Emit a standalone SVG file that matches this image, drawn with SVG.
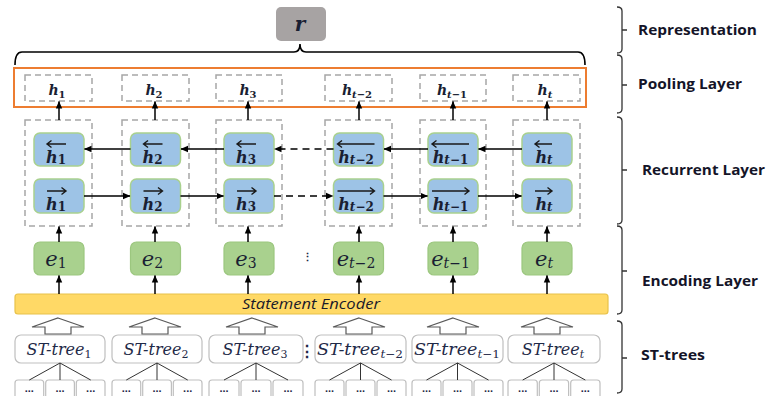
<svg xmlns="http://www.w3.org/2000/svg" width="766" height="396" viewBox="0 0 766 396">
<defs>
<marker id="ah" markerWidth="8" markerHeight="8" refX="7" refY="4" orient="auto" markerUnits="userSpaceOnUse">
<path d="M0,0.8 L7.5,4 L0,7.2 z" fill="#000"/>
</marker>
<style>
.dash{fill:none;stroke:#a6a6a6;stroke-width:1.5;stroke-dasharray:6 4}
.blue{fill:#9dc3e6;stroke:#a9d18e;stroke-width:1.5}
.green{fill:#a9d18e;stroke:#9cc77f;stroke-width:1.2}
.st{fill:#fff;stroke:#bfbfbf;stroke-width:1.2}
.leaf{fill:#fff;stroke:#bfbfbf;stroke-width:1.2}
.conn{stroke:#000;stroke-width:1.5;fill:none}
.cdash{stroke:#000;stroke-width:1.5;fill:none;stroke-dasharray:7 5}
.tree{stroke:#333;stroke-width:1;fill:none}
.hollow{fill:#fff;stroke:#595959;stroke-width:1.2}
.acc{stroke:#1a1a1a;stroke-width:1.4;fill:none}
.math{font-family:"DejaVu Serif","Liberation Serif",serif;font-style:italic;fill:#1a1f33}
.up{font-style:normal}
.ph{font-size:14px;text-anchor:middle;font-weight:700}
.bh{font-size:16px;text-anchor:middle;font-weight:700}
.eh{font-size:21px;text-anchor:middle}
.sth{font-size:16px;text-anchor:middle;fill:#1f2a48}
.lab{font-family:"Open Sans","Liberation Sans",sans-serif;font-weight:700;font-size:14.5px;fill:#141428}
.dots{font-family:"Liberation Sans",sans-serif;font-weight:700;font-size:11px;text-anchor:middle;fill:#1f2a48}
.vd{font-family:"Liberation Sans",sans-serif;font-weight:700;text-anchor:middle;fill:#1f2a48}
</style>
</defs>
<rect width="766" height="396" fill="#fff"/>

<!-- representation -->
<g id="r">
<rect x="276" y="7" width="50" height="34" rx="5" fill="#a7a3a3"/>
<text x="300" y="31" class="math" style="font-size:20px;font-weight:700" text-anchor="middle">r</text>
</g>
<g id="topbrace">
<path d="M15,65 Q15,52 22,52 L294,52 Q300,52 300,44 Q300,52 306,52 L578,52 Q585,52 585,65" fill="none" stroke="#000" stroke-width="1.6"/>
</g>

<!-- pooling layer -->
<g id="pooling">
<rect x="14" y="68" width="572" height="39" fill="none" stroke="#ed7d31" stroke-width="2"/>
<g id="p1"><rect class="dash" x="25" y="75" width="67" height="26"/><text class="math ph" x="57" y="95">h<tspan font-size="10" dy="3" class="up">1</tspan></text></g>
<g id="p2"><rect class="dash" x="122" y="75" width="67" height="26"/><text class="math ph" x="154" y="95">h<tspan font-size="10" dy="3" class="up">2</tspan></text></g>
<g id="p3"><rect class="dash" x="216" y="75" width="66" height="26"/><text class="math ph" x="248" y="95">h<tspan font-size="10" dy="3" class="up">3</tspan></text></g>
<g id="p4"><rect class="dash" x="325" y="75" width="67" height="26"/><text class="math ph" x="357" y="95">h<tspan font-size="10" dy="3">t</tspan><tspan font-size="10" class="up">−2</tspan></text></g>
<g id="p5"><rect class="dash" x="420" y="75" width="66" height="26"/><text class="math ph" x="452" y="95">h<tspan font-size="10" dy="3">t</tspan><tspan font-size="10" class="up">−1</tspan></text></g>
<g id="p6"><rect class="dash" x="513" y="75" width="67" height="26"/><text class="math ph" x="545" y="95">h<tspan font-size="10" dy="3">t</tspan></text></g>
</g>

<!-- recurrent layer -->
<g id="recurrent">
<rect class="dash" x="25" y="120" width="67" height="106"/>
<rect class="dash" x="122" y="120" width="67" height="106"/>
<rect class="dash" x="216" y="120" width="66" height="106"/>
<rect class="dash" x="325" y="120" width="67" height="106"/>
<rect class="dash" x="420" y="120" width="66" height="106"/>
<rect class="dash" x="513" y="120" width="67" height="106"/>
</g>

<g id="b1"><rect class="blue" x="34" y="133" width="50" height="33" rx="6"/><path class="acc" d="M47,144 L66,144 M51.5,140.5 L47,144 L51.5,147.5"/><text class="math bh" x="56" y="163">h<tspan font-size="12" dy="1" class="up">1</tspan></text></g>
<g id="b2"><rect class="blue" x="130.5" y="133" width="50" height="33" rx="6"/><path class="acc" d="M143.5,144 L162.5,144 M148,140.5 L143.5,144 L148,147.5"/><text class="math bh" x="152.5" y="163">h<tspan font-size="12" dy="1" class="up">2</tspan></text></g>
<g id="b3"><rect class="blue" x="224" y="133" width="50" height="33" rx="6"/><path class="acc" d="M237,144 L256,144 M241.5,140.5 L237,144 L241.5,147.5"/><text class="math bh" x="246" y="163">h<tspan font-size="12" dy="1" class="up">3</tspan></text></g>
<g id="b4"><rect class="blue" x="333.5" y="133" width="50" height="33" rx="6"/><path class="acc" d="M337.5,144 L374.5,144 M342,140.5 L337.5,144 L342,147.5"/><text class="math bh" x="356" y="163">h<tspan font-size="12" dy="1">t</tspan><tspan font-size="12" class="up">−2</tspan></text></g>
<g id="b5"><rect class="blue" x="428" y="133" width="50" height="33" rx="6"/><path class="acc" d="M432,144 L469,144 M436.5,140.5 L432,144 L436.5,147.5"/><text class="math bh" x="450.5" y="163">h<tspan font-size="12" dy="1">t</tspan><tspan font-size="12" class="up">−1</tspan></text></g>
<g id="b6"><rect class="blue" x="522" y="133" width="50" height="33" rx="6"/><path class="acc" d="M535,144 L552,144 M539.5,140.5 L535,144 L539.5,147.5"/><text class="math bh" x="544" y="163">h<tspan font-size="12" dy="1">t</tspan></text></g>

<g id="f1"><rect class="blue" x="34" y="179" width="50" height="34" rx="6"/><path class="acc" d="M47,191 L66,191 M61.5,187.5 L66,191 L61.5,194.5"/><text class="math bh" x="56" y="210">h<tspan font-size="12" dy="1" class="up">1</tspan></text></g>
<g id="f2"><rect class="blue" x="130.5" y="179" width="50" height="34" rx="6"/><path class="acc" d="M143.5,191 L162.5,191 M158,187.5 L162.5,191 L158,194.5"/><text class="math bh" x="152.5" y="210">h<tspan font-size="12" dy="1" class="up">2</tspan></text></g>
<g id="f3"><rect class="blue" x="224" y="179" width="50" height="34" rx="6"/><path class="acc" d="M237,191 L256,191 M251.5,187.5 L256,191 L251.5,194.5"/><text class="math bh" x="246" y="210">h<tspan font-size="12" dy="1" class="up">3</tspan></text></g>
<g id="f4"><rect class="blue" x="333.5" y="179" width="50" height="34" rx="6"/><path class="acc" d="M337.5,191 L374.5,191 M370,187.5 L374.5,191 L370,194.5"/><text class="math bh" x="356" y="210">h<tspan font-size="12" dy="1">t</tspan><tspan font-size="12" class="up">−2</tspan></text></g>
<g id="f5"><rect class="blue" x="428" y="179" width="50" height="34" rx="6"/><path class="acc" d="M432,191 L469,191 M464.5,187.5 L469,191 L464.5,194.5"/><text class="math bh" x="450.5" y="210">h<tspan font-size="12" dy="1">t</tspan><tspan font-size="12" class="up">−1</tspan></text></g>
<g id="f6"><rect class="blue" x="522" y="179" width="50" height="34" rx="6"/><path class="acc" d="M535,191 L552,191 M547.5,187.5 L552,191 L547.5,194.5"/><text class="math bh" x="544" y="210">h<tspan font-size="12" dy="1">t</tspan></text></g>

<!-- encoding layer -->
<g id="e1"><rect class="green" x="34" y="242" width="50" height="33" rx="6"/><text class="math eh" x="56" y="266">e<tspan font-size="14" dy="2" class="up">1</tspan></text></g>
<g id="e2"><rect class="green" x="130.5" y="242" width="50" height="33" rx="6"/><text class="math eh" x="152.5" y="266">e<tspan font-size="14" dy="2" class="up">2</tspan></text></g>
<g id="e3"><rect class="green" x="224" y="242" width="50" height="33" rx="6"/><text class="math eh" x="246" y="266">e<tspan font-size="14" dy="2" class="up">3</tspan></text></g>
<g id="e4"><rect class="green" x="333.5" y="242" width="50" height="33" rx="6"/><text class="math eh" x="356" y="266">e<tspan font-size="14" dy="2">t</tspan><tspan font-size="14" class="up">−2</tspan></text></g>
<g id="e5"><rect class="green" x="428" y="242" width="50" height="33" rx="6"/><text class="math eh" x="450.5" y="266">e<tspan font-size="14" dy="2">t</tspan><tspan font-size="14" class="up">−1</tspan></text></g>
<g id="e6"><rect class="green" x="522" y="242" width="50" height="33" rx="6"/><text class="math eh" x="544" y="266">e<tspan font-size="14" dy="2">t</tspan></text></g>
<text class="vd" x="307" y="261" font-size="11">⋮</text>

<g id="encoder">
<rect x="15" y="294" width="593" height="20" rx="3" fill="#ffd966" stroke="#e8c24a" stroke-width="1.2"/>
<text x="311" y="309" font-family="'Open Sans','Liberation Sans',sans-serif" font-style="italic" font-size="15" text-anchor="middle" fill="#1a1a2a" textLength="138" lengthAdjust="spacingAndGlyphs">Statement Encoder</text>
</g>

<!-- ST-trees -->
<g id="st1"><rect class="st" x="15" y="335" width="90" height="28" rx="6"/><text class="math sth" x="59" y="355">ST-tree<tspan font-size="11" dy="3" class="up">1</tspan></text></g>
<g id="st2"><rect class="st" x="112" y="335" width="90" height="28" rx="6"/><text class="math sth" x="156" y="355">ST-tree<tspan font-size="11" dy="3" class="up">2</tspan></text></g>
<g id="st3"><rect class="st" x="209" y="335" width="94" height="28" rx="6"/><text class="math sth" x="255" y="355">ST-tree<tspan font-size="11" dy="3" class="up">3</tspan></text></g>
<g id="st4"><rect class="st" x="315" y="335" width="91" height="28" rx="6"/><text class="math sth" x="360" y="355" textLength="86" lengthAdjust="spacingAndGlyphs">ST-tree<tspan font-size="11" dy="3">t</tspan><tspan font-size="11" class="up">−2</tspan></text></g>
<g id="st5"><rect class="st" x="412" y="335" width="91" height="28" rx="6"/><text class="math sth" x="457" y="355" textLength="86" lengthAdjust="spacingAndGlyphs">ST-tree<tspan font-size="11" dy="3">t</tspan><tspan font-size="11" class="up">−1</tspan></text></g>
<g id="st6"><rect class="st" x="508" y="335" width="92" height="28" rx="6"/><text class="math sth" x="553" y="355">ST-tree<tspan font-size="11" dy="3">t</tspan></text></g>
<text class="vd" x="307" y="357" font-size="16">⋮</text>

<g id="leaves">
<rect class="leaf" x="15" y="380" width="28.7" height="22" rx="3"/><rect class="leaf" x="45.7" y="380" width="28.7" height="22" rx="3"/><rect class="leaf" x="76.3" y="380" width="28.7" height="22" rx="3"/>
<rect class="leaf" x="112" y="380" width="28.7" height="22" rx="3"/><rect class="leaf" x="142.7" y="380" width="28.7" height="22" rx="3"/><rect class="leaf" x="173.3" y="380" width="28.7" height="22" rx="3"/>
<rect class="leaf" x="209" y="380" width="30" height="22" rx="3"/><rect class="leaf" x="241" y="380" width="30" height="22" rx="3"/><rect class="leaf" x="273" y="380" width="30" height="22" rx="3"/>
<rect class="leaf" x="315" y="380" width="29" height="22" rx="3"/><rect class="leaf" x="346" y="380" width="29" height="22" rx="3"/><rect class="leaf" x="377" y="380" width="29" height="22" rx="3"/>
<rect class="leaf" x="412" y="380" width="29" height="22" rx="3"/><rect class="leaf" x="443" y="380" width="29" height="22" rx="3"/><rect class="leaf" x="474" y="380" width="29" height="22" rx="3"/>
<rect class="leaf" x="508" y="380" width="29.3" height="22" rx="3"/><rect class="leaf" x="539.3" y="380" width="29.3" height="22" rx="3"/><rect class="leaf" x="570.7" y="380" width="29.3" height="22" rx="3"/>
<text class="dots" x="29.3" y="392">...</text><text class="dots" x="60" y="392">...</text><text class="dots" x="90.7" y="392">...</text>
<text class="dots" x="126.3" y="392">...</text><text class="dots" x="157" y="392">...</text><text class="dots" x="187.7" y="392">...</text>
<text class="dots" x="224" y="392">...</text><text class="dots" x="256" y="392">...</text><text class="dots" x="288" y="392">...</text>
<text class="dots" x="329.5" y="392">...</text><text class="dots" x="360.5" y="392">...</text><text class="dots" x="391.5" y="392">...</text>
<text class="dots" x="426.5" y="392">...</text><text class="dots" x="457.5" y="392">...</text><text class="dots" x="488.5" y="392">...</text>
<text class="dots" x="522.7" y="392">...</text><text class="dots" x="554" y="392">...</text><text class="dots" x="585.3" y="392">...</text>
</g>

<!-- connectors -->
<g id="connectors">
<g marker-end="url(#ah)">
<line class="conn" x1="59" y1="120" x2="59" y2="101.5"/>
<line class="conn" x1="155" y1="120" x2="155" y2="101.5"/>
<line class="conn" x1="248" y1="120" x2="248" y2="101.5"/>
<line class="conn" x1="359" y1="120" x2="359" y2="101.5"/>
<line class="conn" x1="453" y1="120" x2="453" y2="101.5"/>
<line class="conn" x1="547" y1="120" x2="547" y2="101.5"/>

<line class="conn" x1="130.5" y1="149" x2="84.5" y2="149"/>
<line class="conn" x1="224" y1="149" x2="181" y2="149"/>
<line class="cdash" x1="333.5" y1="149" x2="274.5" y2="149"/>
<line class="conn" x1="428" y1="149" x2="384" y2="149"/>
<line class="conn" x1="522" y1="149" x2="478.5" y2="149"/>

<line class="conn" x1="84" y1="196" x2="130" y2="196"/>
<line class="conn" x1="180.5" y1="196" x2="223.5" y2="196"/>
<line class="cdash" x1="274" y1="196" x2="333" y2="196"/>
<line class="conn" x1="383.5" y1="196" x2="427.5" y2="196"/>
<line class="conn" x1="478" y1="196" x2="521.5" y2="196"/>

<line class="conn" x1="59" y1="242" x2="59" y2="226.5"/>
<line class="conn" x1="155" y1="242" x2="155" y2="226.5"/>
<line class="conn" x1="248" y1="242" x2="248" y2="226.5"/>
<line class="conn" x1="359" y1="242" x2="359" y2="226.5"/>
<line class="conn" x1="453" y1="242" x2="453" y2="226.5"/>
<line class="conn" x1="547" y1="242" x2="547" y2="226.5"/>

<line class="conn" x1="59" y1="294" x2="59" y2="275.5"/>
<line class="conn" x1="155" y1="294" x2="155" y2="275.5"/>
<line class="conn" x1="248" y1="294" x2="248" y2="275.5"/>
<line class="conn" x1="359" y1="294" x2="359" y2="275.5"/>
<line class="conn" x1="453" y1="294" x2="453" y2="275.5"/>
<line class="conn" x1="547" y1="294" x2="547" y2="275.5"/>
</g>

<polygon class="hollow" points="58,318 84,327 71,327 71,334 45,334 45,327 32,327"/>
<polygon class="hollow" points="155,318 181,327 168,327 168,334 142,334 142,327 129,327"/>
<polygon class="hollow" points="252,318 278,327 265,327 265,334 239,334 239,327 226,327"/>
<polygon class="hollow" points="359,318 385,327 372,327 372,334 346,334 346,327 333,327"/>
<polygon class="hollow" points="453,318 479,327 466,327 466,334 440,334 440,327 427,327"/>
<polygon class="hollow" points="547,318 573,327 560,327 560,334 534,334 534,327 521,327"/>

<path class="tree" d="M60,363 L29.3,380 M60,363 L60,380 M60,363 L90.7,380"/>
<path class="tree" d="M157,363 L126.3,380 M157,363 L157,380 M157,363 L187.7,380"/>
<path class="tree" d="M256,363 L224,380 M256,363 L256,380 M256,363 L288,380"/>
<path class="tree" d="M360.5,363 L329.5,380 M360.5,363 L360.5,380 M360.5,363 L391.5,380"/>
<path class="tree" d="M457.5,363 L426.5,380 M457.5,363 L457.5,380 M457.5,363 L488.5,380"/>
<path class="tree" d="M554,363 L522.7,380 M554,363 L554,380 M554,363 L585.3,380"/>
</g>

<!-- right-side layer braces and labels -->
<g id="layer-labels" fill="none" stroke="#333" stroke-width="1.3">
<path d="M617,7 Q622,7 622,11 L622,49 Q622,53 617,53 M622,30 L627,30"/>
<path d="M617,55 Q622,55 622,59 L622,109 Q622,113 617,113 M622,85 L627,85"/>
<path d="M617,117 Q622,117 622,121 L622,220 Q622,224 617,224 M622,170 L627,170"/>
<path d="M617,226 Q622,226 622,230 L622,310 Q622,314 617,314 M622,271 L627,271"/>
<path d="M617,321 Q622,321 622,325 L622,389 Q622,393 617,393 M622,358 L627,358"/>
</g>
<text class="lab" x="638" y="35" textLength="119" lengthAdjust="spacingAndGlyphs">Representation</text>
<text class="lab" x="638" y="89" textLength="104" lengthAdjust="spacingAndGlyphs">Pooling Layer</text>
<text class="lab" x="642" y="175" textLength="123" lengthAdjust="spacingAndGlyphs">Recurrent Layer</text>
<text class="lab" x="642" y="286" textLength="116" lengthAdjust="spacingAndGlyphs">Encoding Layer</text>
<text class="lab" x="641" y="360" textLength="64" lengthAdjust="spacingAndGlyphs">ST-trees</text>
</svg>
